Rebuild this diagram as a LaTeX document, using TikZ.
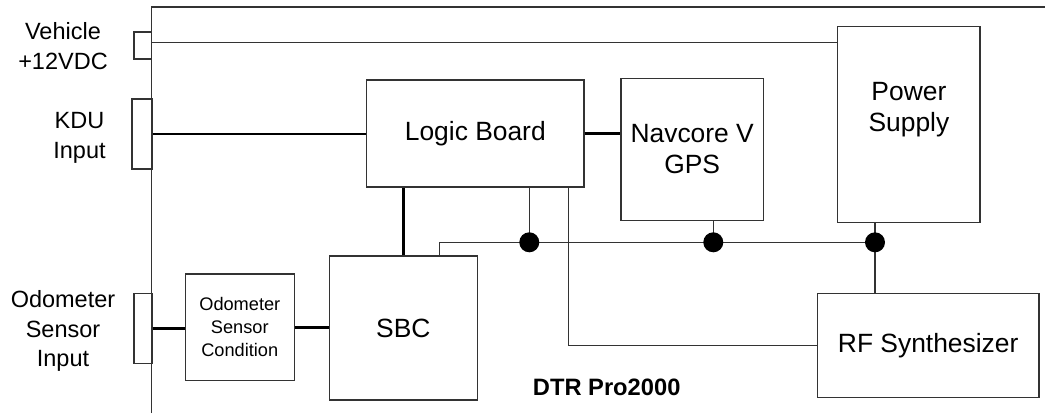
\documentclass[tikz,border=0pt]{standalone}
\usepackage{fontspec}
\setmainfont{Liberation Sans}
\usepackage{tikz}
\usetikzlibrary{positioning,calc}

\begin{document}
\begin{tikzpicture}[x=1pt,y=-1pt,
    blk/.style={draw=black!80,line width=1.2pt,align=center,inner sep=0pt,font=\fontsize{26.4}{31}\selectfont},
    port/.style={draw=black!80,line width=1.2pt,inner sep=0pt},
    lbl/.style={align=center,inner sep=0pt,font=\fontsize{23.5}{29.5}\selectfont},
    bus/.style={black!80,line width=1.3pt},
    sig/.style={line width=2.6pt}]
    \useasboundingbox (0,0) rectangle (1045,413);
    % housing
    \draw[bus] (151.7,413) -- (151.7,7) -- (1045,7);
    % connectors on the housing
    \node[port,minimum width=17.7pt,minimum height=27pt] (vport) at (142.9,45.5) {};
    \node[port,minimum width=20pt,minimum height=70pt] (kport) at (142,134) {};
    \node[port,minimum width=18pt,minimum height=70pt] (oport) at (143,328.3) {};
    \node[lbl] (vlbl) at (63,46) {Vehicle\\+12VDC};
    \node[lbl] (klbl) at (79.5,138) {KDU\\Input};
    \node[lbl] (olbl) at (63,331) {Odometer\\Sensor\\Input};
    % boards
    \node[blk,minimum width=217.3pt,minimum height=107pt] (logic) at (475.3,133.5) {Logic Board};
    \node[blk,minimum width=142.3pt,minimum height=142.4pt] (gps) at (692.2,149.5) {Navcore V\\GPS};
    \node[blk,minimum width=142.3pt,minimum height=195.6pt] (psu) at (908.9,124.5) {};
    \node[blk,draw=none] (psulbl) at (908.9,110) {Power\\Supply};
    \node[blk,minimum width=148pt,minimum height=144pt] (sbc) at (403.3,328) {SBC};
    \node[blk,minimum width=109pt,minimum height=106.7pt,font=\fontsize{18.2}{23}\selectfont] (osc) at (239.8,327.3) {Odometer\\Sensor\\Condition};
    \node[blk,minimum width=221.7pt,minimum height=104.4pt] (rf) at (928.2,345.5) {RF Synthesizer};
    \node[lbl,font=\bfseries\fontsize{23.7}{28}\selectfont] (title) at (606.7,387) {DTR Pro2000};
    % power bus junctions
    \coordinate (d1) at (529.3,242.3);
    \coordinate (d2) at (713.3,242.3);
    \coordinate (d3) at (875,242.3);
    % wiring
    \draw[bus] ([yshift=3pt]vport.east) -- ([yshift=3pt]vport.east -| psu.west);
    \draw[sig] (kport.east) -- (kport.east -| logic.west);
    \draw[sig] (logic.east) -- (logic.east -| gps.west);
    \draw[sig] (sbc.north) -- (sbc.north |- logic.south);
    \draw[sig] (oport.east) -- (oport.east -| osc.west);
    \draw[sig] (osc.east) -- (osc.east -| sbc.west);
    \draw[bus] ([xshift=36pt]sbc.north) |- (d3);
    \draw[bus] (logic.south -| d1) -- (d1);
    \draw[bus] (gps.south -| d2) -- (d2);
    \draw[bus] (psu.south -| d3) -- (rf.north -| d3);
    \draw[bus] ([xshift=93pt]logic.south) |- (rf.west);
    \foreach \d in {d1,d2,d3}
      \fill (\d) circle (10pt);
\end{tikzpicture}
\end{document}
